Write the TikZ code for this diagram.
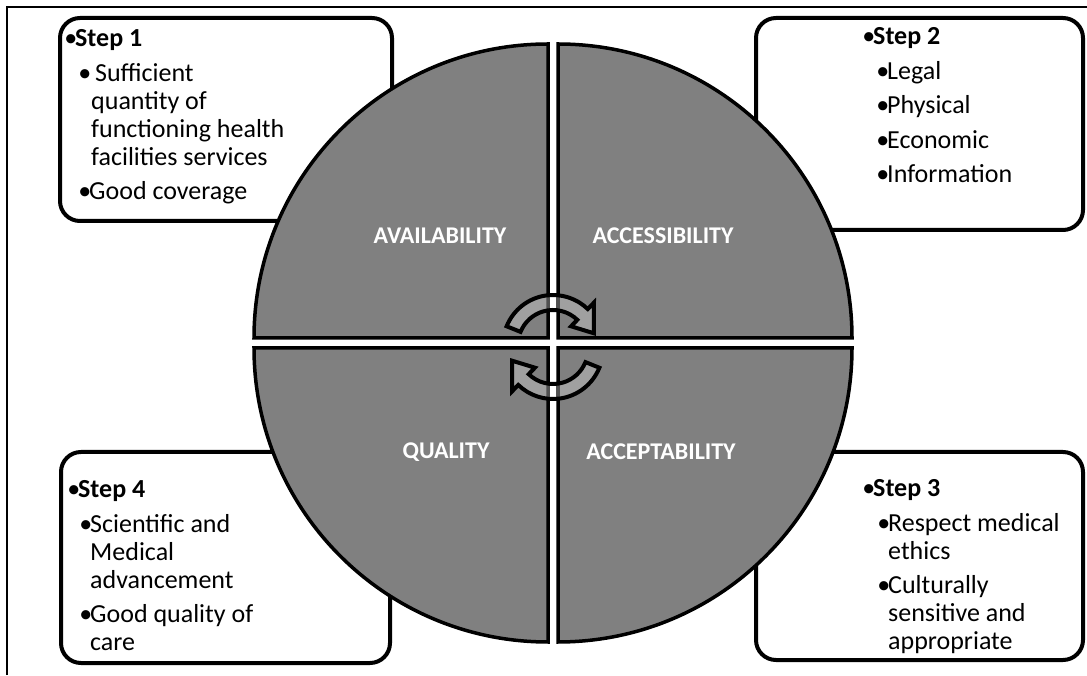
\documentclass[tikz,border=0pt]{standalone}
\usepackage{fontspec}
\setmainfont{Carlito}
\definecolor{qgray}{HTML}{808080}
\definecolor{qlight}{HTML}{A0A0A0}
\definecolor{qedge}{HTML}{505050}
\newcommand\stepline[1]{\hbox{\llap{•\kern-2pt}\textbf{#1}}}
\newcommand\itemline[2]{\hbox{\kern#1pt\llap{•\kern-2pt}#2}}
\newcommand\contline[2]{\hbox{\kern#1pt #2}}
\newcommand\pgap{\vskip6.5pt}
\newcommand\quads[1]{%
  \path[#1] (548,337) -- ++(-294,0) arc[start angle=180, end angle=90, radius=294] -- cycle;
  \path[#1] (558,337) -- ++(0,294) arc[start angle=90, end angle=0, radius=294] -- cycle;
  \path[#1] (548,327) -- ++(0,-294) arc[start angle=270, end angle=180, radius=294] -- cycle;
  \path[#1] (558,327) -- ++(294,0) arc[start angle=0, end angle=-90, radius=294] -- cycle;}
\newcommand\toparrow[1]{\path[#1, shift={(553,330)}] (158:50) arc[start angle=158, end angle=46, radius=50] -- (46:59) -- (16:42.5) -- (46:26) -- (46:35) arc[start angle=46, end angle=158, radius=35] -- cycle;}
\newcommand\botarrow[1]{\path[#1, shift={(553,326)}] (338:50) arc[start angle=338, end angle=226, radius=50] -- (226:59) -- (196:42.5) -- (226:26) -- (226:35) arc[start angle=226, end angle=338, radius=35] -- cycle;}
\tikzset{
  qd/.style={fill=qgray, draw=black, line width=3.5pt, line join=miter},
  qdlight/.style={fill=qlight, draw=qedge, line width=3.5pt, line join=miter},
  stepbox/.style={draw=black, line width=4pt, rounded corners=20pt, fill=white},
  frameline/.style={draw=black, line width=1.8pt},
  lbl/.style={text=white, font=\fontsize{24}{28}\selectfont\bfseries, inner sep=0pt},
  boxtext/.style={anchor=base west, inner sep=0pt, font=\fontsize{26}{28}\selectfont},
  cycline/.style={draw=black, line width=4pt, line join=miter, miter limit=4}
}
\begin{document}
\begin{tikzpicture}[x=1pt,y=1pt]
\useasboundingbox (0,0) rectangle (1087,675);
% frame
\draw[frameline] (7,0) -- (7,668) -- (1087,668);
% boxes
\draw[stepbox] (60,454) rectangle (392,657);
\draw[stepbox] (756,445) rectangle (1083,657);
\draw[stepbox] (756,15) rectangle (1083,223);
\draw[stepbox] (61,12) rectangle (390,223);
% quadrants
\quads{qd}
% labels
\node[lbl] (avail) at (440,439) {AVAILABILITY};
\node[lbl] (access) at (663,439) {ACCESSIBILITY};
\node[lbl] (qual) at (446,223) {QUALITY};
\node[lbl] (accept) at (661,223) {ACCEPTABILITY};
% cycle arrows (translucent look)
\begin{scope}
  \toparrow{clip}
  \quads{qdlight}
\end{scope}
\begin{scope}
  \botarrow{clip}
  \quads{qdlight}
\end{scope}
\toparrow{cycline}
\botarrow{cycline}
% box texts
\node[boxtext] (t1) at (75,628) {\vtop{\stepline{Step 1}\pgap
  \itemline{14}{\ Sufficient}\contline{16}{quantity of}\contline{16}{functioning health}\contline{16}{facilities services}\pgap
  \itemline{14}{Good coverage}}};
\node[boxtext] (t2) at (873,630) {\vtop{\stepline{Step 2}\pgap
  \itemline{14}{Legal}\pgap\itemline{14}{Physical}\pgap\itemline{14}{Economic}\pgap\itemline{14}{Information}}};
\node[boxtext] (t3) at (873,178) {\vtop{\stepline{Step 3}\pgap
  \itemline{15}{Respect medical}\contline{15}{ethics}\pgap
  \itemline{15}{Culturally}\contline{15}{sensitive and}\contline{15}{appropriate}}};
\node[boxtext] (t4) at (78,177) {\vtop{\stepline{Step 4}\pgap
  \itemline{12}{Scientific and}\contline{12}{Medical}\contline{12}{advancement}\pgap
  \itemline{12}{Good quality of}\contline{12}{care}}};
\end{tikzpicture}
\end{document}
